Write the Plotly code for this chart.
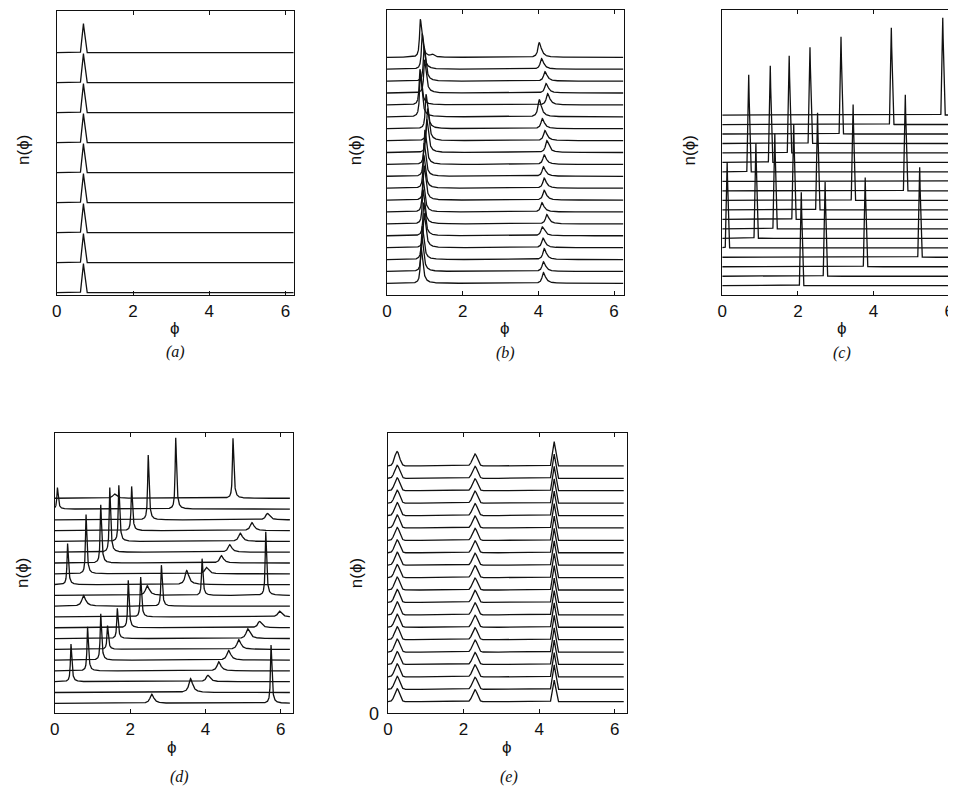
import numpy as np
import plotly.graph_objects as go

# page body has an 8px margin; the figure is drawn so that reference pixel p lands at p
OFF = 8
W, H = 956 - OFF, 789 - OFF
X_END = 6.24

# ---------------- data, rows listed top -> bottom ----------------
# (a) single sharp peak per row
A_POS = [0.70, 0.70, 0.70, 0.70, 0.70, 0.70, 0.70, 0.70, 0.70]
A_HT = [0.97, 0.97, 0.97, 0.97, 0.97, 0.97, 0.97, 0.97, 0.97]

# (b) two peaks per row
B_P1_POS = [0.88, 0.93, 0.98, 0.99, 0.87, 0.88, 1.03, 1.07, 1.05, 1.00,
            0.98, 0.97, 0.98, 0.95, 0.95, 0.97, 0.98, 0.93, 0.92, 0.90]
B_P1_HT = [3.2, 3.0, 2.9, 2.8, 3.0, 3.6, 2.9, 2.7, 2.8, 2.9,
           2.8, 2.8, 2.9, 2.8, 2.9, 2.8, 2.9, 2.8, 2.9, 3.0]
B_P2_POS = [4.02, 4.08, 4.17, 4.20, 4.24, 4.02, 4.10, 4.17, 4.22, 4.15,
            4.13, 4.15, 4.15, 4.09, 4.22, 4.10, 4.12, 4.15, 4.13, 4.13]
B_P2_HT = [1.23, 0.90, 0.80, 0.80, 0.95, 1.45, 0.85, 0.85, 1.00, 0.80,
           0.80, 0.85, 0.82, 0.78, 0.78, 0.75, 0.80, 0.92, 0.82, 0.90]
B_SMALL_POS = [1.20]
B_SMALL_HT = [0.2]

# (c) one tall spike per row
C_POS = [5.83, 4.47, 3.14, 2.32, 1.77, 1.27, 0.70, 6.17, 4.84, 3.46,
         2.52, 1.89, 1.39, 0.89, 0.13, 5.22, 3.78, 2.72, 2.09]
C_HT = [10.0, 9.95, 10.0, 9.9, 10.0, 9.95, 10.0, 9.85, 9.9, 9.85,
        10.0, 9.8, 9.8, 9.8, 8.8, 9.25, 9.15, 9.7, 9.6]

# (d) sharp peaks and broad bumps, per row
D_SHARP = [
    [(4.73, 5.55)],
    [(3.21, 6.6), (0.07, 2.0)],
    [(2.48, 6.0)],
    [(2.04, 4.1)],
    [(1.70, 5.2)],
    [(1.46, 6.0)],
    [(1.22, 5.4)],
    [(0.83, 5.5)],
    [(0.34, 3.8)],
    [(5.60, 5.9), (3.91, 3.4)],
    [(2.83, 3.8)],
    [(2.28, 3.7)],
    [(1.95, 4.4)],
    [(1.66, 2.8)],
    [(1.40, 2.2)],
    [(1.22, 4.3)],
    [(0.87, 4.1)],
    [(0.43, 3.5)],
    [],
    [(5.74, 5.4)],
]
D_BROAD = [
    [(1.58, 0.4)],
    [],
    [(5.64, 0.6)],
    [(5.23, 0.75)],
    [(4.92, 0.77)],
    [(4.64, 0.7)],
    [(4.42, 0.68)],
    [(4.02, 0.6)],
    [(3.50, 1.3)],
    [(2.45, 0.9)],
    [(0.76, 1.0)],
    [(5.96, 0.55)],
    [(5.43, 0.6)],
    [(5.12, 0.9)],
    [(4.88, 0.9)],
    [(4.61, 0.9)],
    [(4.35, 0.85)],
    [(4.06, 0.6)],
    [(3.60, 1.3)],
    [(2.57, 0.85)],
]

# (e) three peaks per row
E_P1_POS = [0.24, 0.24, 0.24, 0.24, 0.24, 0.24, 0.24, 0.24, 0.24, 0.24,
            0.24, 0.24, 0.24, 0.24, 0.24, 0.24, 0.24, 0.24, 0.24, 0.24]
E_P1_HT = [1.16, 1.05, 1.05, 1.05, 1.05, 1.05, 1.05, 1.05, 1.05, 1.05,
           1.05, 1.05, 1.05, 1.05, 1.05, 1.05, 1.05, 1.05, 1.05, 1.05]
E_P2_POS = [2.30, 2.30, 2.30, 2.30, 2.30, 2.30, 2.30, 2.30, 2.30, 2.30,
            2.30, 2.30, 2.30, 2.30, 2.30, 2.30, 2.30, 2.30, 2.30, 2.30]
E_P2_HT = [0.97, 0.97, 0.97, 0.97, 0.97, 0.97, 0.97, 0.97, 0.97, 0.97,
           0.97, 0.97, 0.97, 0.97, 0.97, 0.97, 0.97, 0.97, 0.97, 0.97]
E_P3_POS = [4.40, 4.40, 4.40, 4.40, 4.40, 4.40, 4.40, 4.40, 4.40, 4.40,
            4.40, 4.40, 4.40, 4.40, 4.40, 4.40, 4.40, 4.40, 4.40, 4.40]
E_P3_HT = [1.96, 1.96, 1.96, 1.96, 1.96, 1.96, 1.96, 1.96, 1.96, 1.96,
           1.96, 1.96, 1.96, 1.96, 1.96, 1.96, 1.96, 1.96, 1.96, 1.75]

TICKS = [0, 2, 4, 6]
TICK_TEXT = ["0", "2", "4", "6"]
CAPTIONS = ["(a)", "(b)", "(c)", "(d)", "(e)"]

# ---------------- peak shapes ----------------
def grid(centres):
    x = np.linspace(0, X_END, 2500)
    return np.union1d(x, np.array([c for c in centres if 0 <= c <= X_END]))

def tri(x, x0, h, hw):
    return h * np.clip(1 - np.abs(x - x0) / hw, 0, None)

def lor(x, x0, h, gl, gr):
    dx = x - x0
    g = np.where(dx < 0, gl, gr)
    return h / (1 + (dx / g) ** 2)

def gau(x, x0, h, s):
    return h * np.exp(-0.5 * ((x - x0) / s) ** 2)

# ---------------- panel geometry (reference pixels) ----------------
PANELS = {
    "a": dict(box=(52, 290, 11, 295), xr=(0, 6.21), yr=(-0.077, 9.39), mirror=True),
    "b": dict(box=(384, 622, 10, 295), xr=(0, 6.255), yr=(-0.98, 22.98), mirror=True),
    "c": dict(box=(721, 956, 10, 295), xr=(0, 6.18), yr=(-0.98, 29.08), mirror=False),
    "d": dict(box=(50, 289, 433, 713), xr=(0, 6.31), yr=(-0.9, 25.05), mirror=True),
    "e": dict(box=(385, 625, 433, 713), xr=(0, 6.32), yr=(-0.91, 21.65), mirror=True),
}

def px_x(p):
    return min(max((p - OFF) / W, 0), 1)

def px_y(p):
    return min(max(1 - (p - OFF) / H, 0), 1)

fig = go.Figure()
LINE = dict(color="#111111", width=1.3)

def add(curves, idx):
    xa = "x" if idx == 1 else f"x{idx}"
    ya = "y" if idx == 1 else f"y{idx}"
    for x, y in curves:
        fig.add_trace(go.Scatter(x=x, y=y, mode="lines", line=LINE, xaxis=xa, yaxis=ya,
                                 showlegend=False, hoverinfo="skip"))

# (a)
n = len(A_POS)
cur = []
for i, (p, h) in enumerate(zip(A_POS, A_HT)):
    base = n - 1 - i
    x = grid([p, p - 0.08, p + 0.08])
    cur.append((x, base + tri(x, p, h, 0.08)))
add(cur, 1)

# (b)
n = len(B_P1_POS)
cur = []
for i in range(n):
    base = n - 1 - i
    x = grid([B_P1_POS[i], B_P2_POS[i]])
    y = lor(x, B_P1_POS[i], B_P1_HT[i], 0.025, 0.05) + lor(x, B_P2_POS[i], B_P2_HT[i], 0.04, 0.07)
    if i == 0:
        for p, h in zip(B_SMALL_POS, B_SMALL_HT):
            y = y + lor(x, p, h, 0.05, 0.05)
    cur.append((x, base + y))
add(cur, 2)

# (c)
n = len(C_POS)
cur = []
for i, (p, h) in enumerate(zip(C_POS, C_HT)):
    base = n - 1 - i
    x = grid([p, p - 0.06, p + 0.05])
    y = tri(x, p, h, 0.05) + lor(x, p, 0.25, 0.03, 0.01)
    cur.append((x, base + y))
add(cur, 3)

# (d)
n = len(D_SHARP)
cur = []
for i in range(n):
    base = n - 1 - i
    cs = [p for p, _ in D_SHARP[i]] + [p for p, _ in D_BROAD[i]]
    x = grid(cs)
    y = np.zeros_like(x)
    for p, h in D_SHARP[i]:
        y = y + lor(x, p, h, 0.018, 0.026)
    for p, h in D_BROAD[i]:
        y = y + lor(x, p, h, 0.05, 0.07)
    cur.append((x, base + y))
add(cur, 4)

# (e)
n = len(E_P1_POS)
cur = []
for i in range(n):
    base = n - 1 - i
    p3 = E_P3_POS[i]
    x = grid([E_P1_POS[i], E_P2_POS[i], p3, p3 - 0.1, p3 + 0.1])
    y = (gau(x, E_P1_POS[i], E_P1_HT[i], 0.065) + gau(x, E_P2_POS[i], E_P2_HT[i], 0.065)
         + tri(x, p3, E_P3_HT[i], 0.1))
    cur.append((x, base + y))
add(cur, 5)

# ---------------- axes ----------------
FONT = "Liberation Sans, Arial, DejaVu Sans, sans-serif"
layout = dict(width=W, height=H, margin=dict(l=0, r=0, t=0, b=0),
              paper_bgcolor="white", plot_bgcolor="white", showlegend=False)
for k, key in enumerate("abcde", start=1):
    P = PANELS[key]
    x0, x1, y0, y1 = P["box"]
    xs = "xaxis" if k == 1 else f"xaxis{k}"
    ys = "yaxis" if k == 1 else f"yaxis{k}"
    yanchor = "y" if k == 1 else f"y{k}"
    xanchor = "x" if k == 1 else f"x{k}"
    layout[xs] = dict(domain=[px_x(x0), px_x(x1)], range=list(P["xr"]), anchor=yanchor,
                      tickvals=TICKS, ticktext=TICK_TEXT, ticks="inside", ticklen=4,
                      tickcolor="#111", showline=True, linecolor="#111", linewidth=1.2,
                      mirror="ticks", showgrid=False, zeroline=False,
                      tickfont=dict(family=FONT, size=17, color="#111"))
    layout[ys] = dict(domain=[px_y(y1), px_y(y0)], range=list(P["yr"]), anchor=xanchor,
                      showticklabels=False, ticks="", showline=True, linecolor="#111",
                      linewidth=1.2, mirror=P["mirror"], showgrid=False, zeroline=False)
fig.update_layout(**layout)

# ---------------- text ----------------
ann = []
def txt(x, y, s, size=17, angle=0, family=FONT):
    ann.append(dict(x=px_x(x), y=px_y(y), xref="paper", yref="paper", text=s, showarrow=False,
                    textangle=angle, font=dict(family=family, size=size, color="#111"),
                    xanchor="center", yanchor="middle"))

PHI_POS = [(171, 329), (503, 329), (841, 329), (168, 747), (505, 747)]
NLAB_POS = [(18, 150), (352, 150), (688, 150), (17, 573), (353, 573)]
CAP_POS = [(171, 352), (503, 353), (841, 353), (175, 777), (507, 777)]
for (px, py) in PHI_POS:
    txt(px, py, "ϕ", size=17)
for (px, py) in NLAB_POS:
    txt(px, py, "n(ϕ)", size=17, angle=-90)
for (px, py), c in zip(CAP_POS, CAPTIONS):
    txt(px, py, f"<i>{c}</i>", size=16, family="Liberation Serif, Times New Roman, serif")
txt(371, 714, "0", size=18)
fig.update_layout(annotations=ann)

fig.write_html("out.html")
